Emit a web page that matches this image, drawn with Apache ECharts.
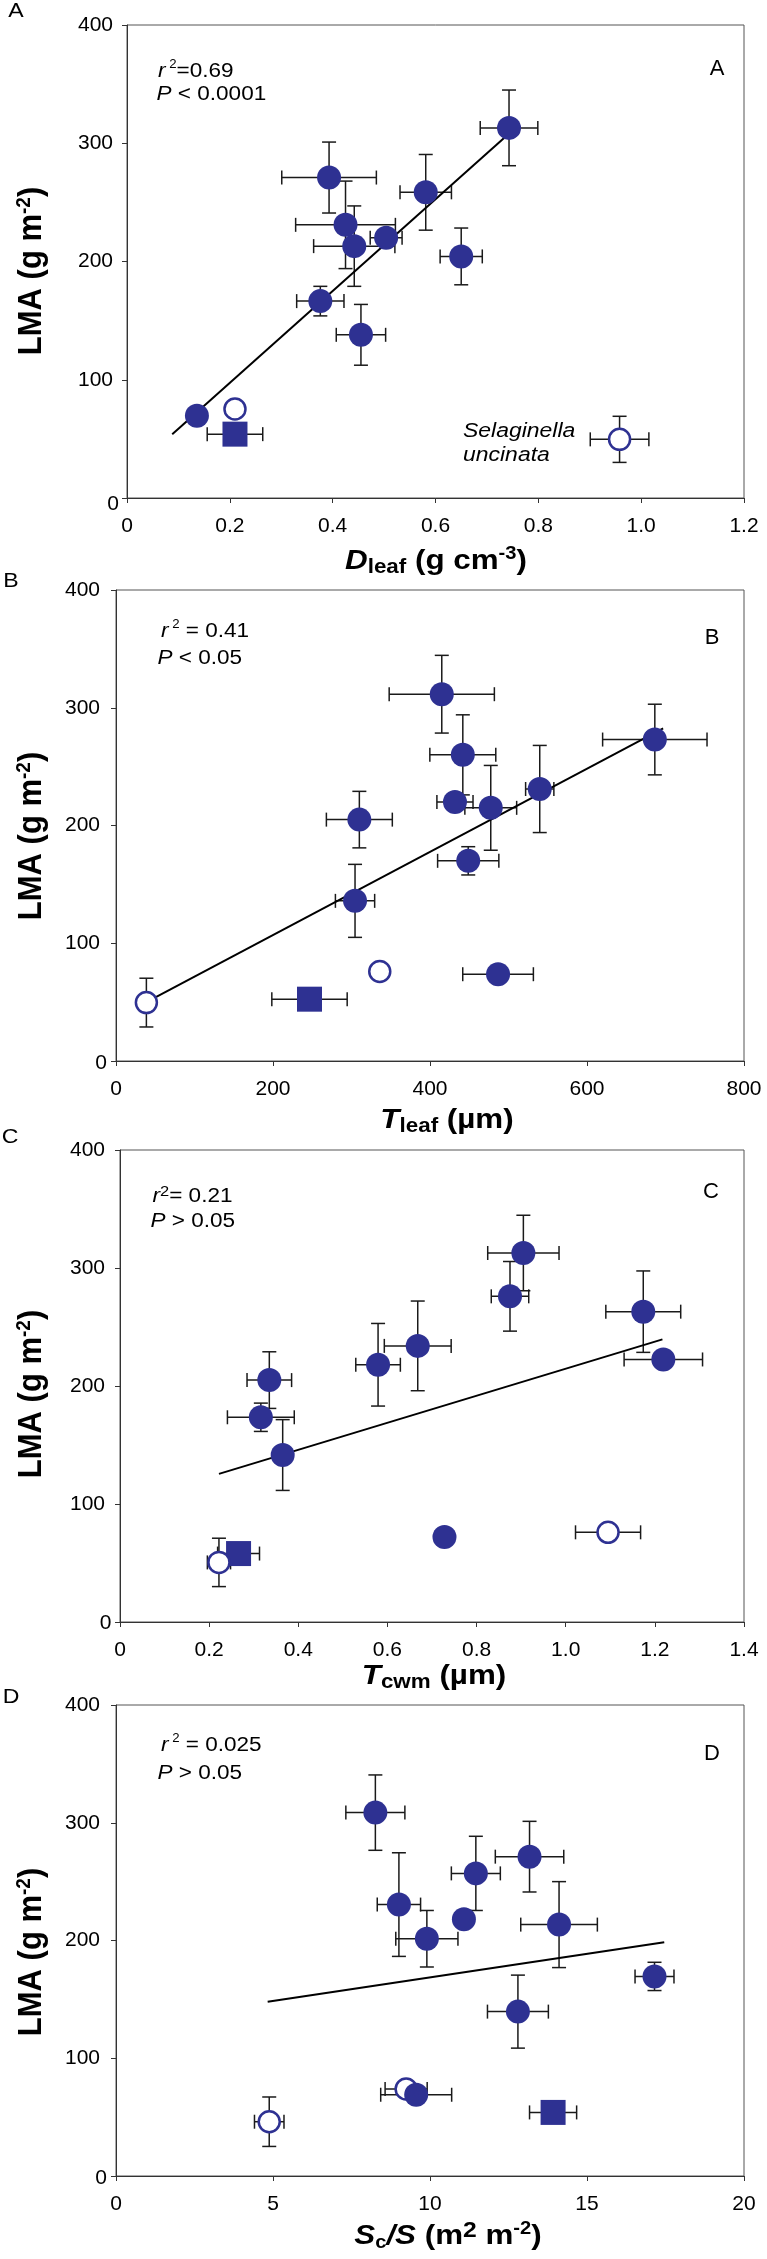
<!DOCTYPE html>
<html><head><meta charset="utf-8">
<script src="https://cdn.jsdelivr.net/npm/echarts@6/dist/echarts.min.js"></script>
<style>html,body{margin:0;padding:0;background:#fff}#c{width:767px;height:2259px}</style>
</head><body><div id="c"></div>
<script>
// ---------- DATA ----------
// kind: f = filled circle, o = open circle, s = filled square
const aX    = [0.136, 0.376, 0.393, 0.425, 0.442, 0.455, 0.504, 0.581, 0.650, 0.743, 0.210, 0.958, 0.210];
const aY    = [69.6, 166.5, 271, 231, 213, 138, 220, 258.5, 204.3, 313, 75.3, 49.6, 54];
const aXErr = [0, 0.046, 0.092, 0.097, 0.079, 0.048, 0.031, 0.050, 0.041, 0.056, 0, 0.057, 0.054];
const aYErr = [0, 12.5, 30, 37, 34, 25.7, 0, 32, 24, 32, 0, 19.5, 0];
const aKind = ['f','f','f','f','f','f','f','f','f','f','o','o','s'];
const aLineX = [0.088, 0.735];
const aLineY = [54, 305];

const bX    = [304.5, 310, 448.7, 431.8, 477.4, 441.8, 415, 539.8, 686.4, 486.7, 38.7, 336, 246.5];
const bY    = [136, 205, 170, 220, 215, 260, 311.5, 231, 273, 73.7, 49.6, 76, 52.5];
const bXErr = [25, 42, 39, 23, 33, 42, 67, 18, 66.5, 45, 0, 0, 48];
const bYErr = [31, 24, 12, 0, 36, 34, 33, 37, 30, 0, 20.7, 0, 0];
const bKind = ['f','f','f','f','f','f','f','f','f','f','o','o','s'];
const bLineX = [38.7, 697];
const bLineY = [50, 282.5];

const cX    = [0.316, 0.335, 0.365, 0.579, 0.668, 0.728, 0.875, 0.905, 1.174, 1.219, 0.222, 1.095, 0.266];
const cY    = [173.5, 205, 141.5, 218, 234, 72, 276, 312.7, 263, 222.5, 50.5, 76, 58];
const cXErr = [0.075, 0.050, 0, 0.050, 0.075, 0, 0.042, 0.080, 0.084, 0.088, 0.026, 0.073, 0.047];
const cYErr = [12, 24, 30, 35, 38, 0, 29.5, 32, 34.5, 0, 20.5, 0, 0];
const cKind = ['f','f','f','f','f','f','f','f','f','f','o','o','s'];
const cLineX = [0.222, 1.217];
const cLineY = [125.5, 239.5];

const dX    = [8.26, 9.01, 9.9, 11.08, 11.46, 13.17, 14.11, 12.8, 17.15, 9.56, 4.88, 9.24, 13.92];
const dY    = [308.6, 230.5, 201.5, 218, 257, 271.2, 213.5, 139.6, 169.5, 69, 46.1, 73.9, 54];
const dXErr = [0.94, 0.69, 0.99, 0, 0.78, 1.09, 1.22, 0.97, 0.62, 1.13, 0.47, 0.67, 0.75];
const dYErr = [32, 44, 24, 0, 31.5, 30, 36.5, 31, 12, 0, 21, 0, 0];
const dKind = ['f','f','f','f','f','f','f','f','f','f','o','o','s'];
const dLineX = [4.83, 17.46];
const dLineY = [148, 198.5];

const yTicks  = ['0', '100', '200', '300', '400'];
const aXTicks = ['0', '0.2', '0.4', '0.6', '0.8', '1.0', '1.2'];
const bXTicks = ['0', '200', '400', '600', '800'];
const cXTicks = ['0', '0.2', '0.4', '0.6', '0.8', '1.0', '1.2', '1.4'];
const dXTicks = ['0', '5', '10', '15', '20'];

// ---------- STYLE / LAYOUT ----------
const FONT = '"Liberation Sans", Arial, Helvetica, sans-serif';
const BLUE = '#2E3192';
const AXIS = '#333333';

const panels = [
  {x:aX, y:aY, xe:aXErr, ye:aYErr, kind:aKind, lx:aLineX, ly:aLineY, xint:0.2, xticks:aXTicks,
   grid:{left:127, top:25, width:617, height:473}, ylm:8, ypad:6, zshift:6, zo:{s:3,f:4,o:5}},
  {x:bX, y:bY, xe:bXErr, ye:bYErr, kind:bKind, lx:bLineX, ly:bLineY, xint:200, xticks:bXTicks,
   grid:{left:116, top:590, width:628, height:471}, ylm:9, ypad:7, zshift:2.5, zo:{s:3,f:4,o:5}},
  {x:cX, y:cY, xe:cXErr, ye:cYErr, kind:cKind, lx:cLineX, ly:cLineY, xint:0.2, xticks:cXTicks,
   grid:{left:120, top:1150, width:624, height:472}, ylm:8.5, ypad:6.5, zshift:1.5, zo:{s:3,f:4,o:5}},
  {x:dX, y:dY, xe:dXErr, ye:dYErr, kind:dKind, lx:dLineX, ly:dLineY, xint:5, xticks:dXTicks,
   grid:{left:116, top:1705, width:628, height:471}, ylm:9, ypad:7, zshift:2.5, zo:{o:3,s:4,f:5}}
];

function errRender(params, api) {
  const x = api.value(0), y = api.value(1), xe = api.value(2), ye = api.value(3);
  const st = {stroke:'#1a1a1a', lineWidth:1.5, fill:null};
  const cap = 7;
  const ch = [];
  if (xe > 0) {
    const l = api.coord([x - xe, y]), r = api.coord([x + xe, y]);
    ch.push({type:'line', shape:{x1:l[0], y1:l[1], x2:r[0], y2:r[1]}, style:st});
    ch.push({type:'line', shape:{x1:l[0], y1:l[1]-cap, x2:l[0], y2:l[1]+cap}, style:st});
    ch.push({type:'line', shape:{x1:r[0], y1:r[1]-cap, x2:r[0], y2:r[1]+cap}, style:st});
  }
  if (ye > 0) {
    const t = api.coord([x, y + ye]), b = api.coord([x, y - ye]);
    ch.push({type:'line', shape:{x1:t[0], y1:t[1], x2:b[0], y2:b[1]}, style:st});
    ch.push({type:'line', shape:{x1:t[0]-cap, y1:t[1], x2:t[0]+cap, y2:t[1]}, style:st});
    ch.push({type:'line', shape:{x1:b[0]-cap, y1:b[1], x2:b[0]+cap, y2:b[1]}, style:st});
  }
  return {type:'group', children:ch};
}

const grids = [], xAxes = [], yAxes = [], series = [];
panels.forEach((p, i) => {
  grids.push(Object.assign({show:true, borderColor:'#555', borderWidth:1, backgroundColor:'transparent',
    containLabel:false, outerBoundsMode:'none'}, p.grid));
  const xmax = (p.xticks.length - 1) * p.xint;
  xAxes.push({
    type:'value', gridIndex:i, min:0, max:xmax, interval:p.xint,
    splitLine:{show:false},
    axisLine:{show:true, onZero:false, lineStyle:{color:AXIS, width:1}},
    axisTick:{show:true, inside:false, length:5, lineStyle:{color:AXIS, width:1}},
    axisLabel:{show:true, margin:18, color:'#000', fontSize:21, fontFamily:FONT,
      formatter:(v) => p.xticks[Math.round(v / p.xint)]}
  });
  yAxes.push({
    type:'value', gridIndex:i, min:0, max:400, interval:100,
    splitLine:{show:false},
    axisLine:{show:true, onZero:false, lineStyle:{color:AXIS, width:1}},
    axisTick:{show:true, inside:false, length:5, lineStyle:{color:AXIS, width:1}},
    axisLabel:{show:true, margin:p.ylm, color:'#000', fontSize:21, fontFamily:FONT,
      formatter:(v) => { const k = Math.round(v / 100); return k === 0 ? '{z|' + yTicks[k] + '}' : '{p|' + yTicks[k] + '}'; },
      rich:{
        z:{fontSize:21, fontFamily:FONT, color:'#000', padding:[p.zshift * 2, 0, 0, 0]},
        p:{fontSize:21, fontFamily:FONT, color:'#000', padding:[0, p.ypad, 0, 0]}
      }}
  });
  const rows = p.x.map((v, k) => [v, p.y[k], p.xe[k], p.ye[k]]);
  series.push({type:'custom', xAxisIndex:i, yAxisIndex:i, renderItem:errRender, data:rows,
    encode:{x:0, y:1}, z:2, silent:true, clip:false});
  series.push({type:'line', xAxisIndex:i, yAxisIndex:i, data:p.lx.map((v, k) => [v, p.ly[k]]),
    showSymbol:false, symbol:'none', lineStyle:{color:'#000', width:2}, z:2, silent:true});
  const pick = (kd) => p.x.map((v, k) => [v, p.y[k], k]).filter(r => p.kind[r[2]] === kd).map(r => [r[0], r[1]]);
  series.push({type:'scatter', xAxisIndex:i, yAxisIndex:i, data:pick('f'), symbol:'circle', symbolSize:24,
    itemStyle:{color:BLUE, opacity:1}, z:p.zo.f, silent:true});
  series.push({type:'scatter', xAxisIndex:i, yAxisIndex:i, data:pick('o'), symbol:'circle', symbolSize:21,
    itemStyle:{color:'#fff', borderColor:BLUE, borderWidth:2.5, opacity:1}, z:p.zo.o, silent:true});
  series.push({type:'scatter', xAxisIndex:i, yAxisIndex:i, data:pick('s'), symbol:'rect', symbolSize:25,
    itemStyle:{color:BLUE, opacity:1}, z:p.zo.s, silent:true});
});

// ---------- TEXT ----------
function R(o) { return Object.assign({fontFamily:FONT, fill:'#000', color:'#000'}, o); }
const annRich = {
  i: R({fontSize:20.5, fontStyle:'italic', lineHeight:24}),
  n: R({fontSize:20.5, lineHeight:24}),
  s: R({fontSize:12, lineHeight:12, verticalAlign:'top'}),
  s2: R({fontSize:15, lineHeight:14, verticalAlign:'top'})
};
const titleRich = {
  b: R({fontSize:28, fontWeight:'bold', lineHeight:32}),
  i: R({fontSize:28, fontWeight:'bold', fontStyle:'italic', lineHeight:32}),
  sub: R({fontSize:20, fontWeight:'bold', lineHeight:20, verticalAlign:'bottom'}),
  subs: R({fontSize:18, fontWeight:'bold', lineHeight:18, verticalAlign:'bottom'}),
  sup: R({fontSize:18, fontWeight:'bold', lineHeight:22, verticalAlign:'top'}),
  sup2: R({fontSize:22, fontWeight:'bold', lineHeight:28, verticalAlign:'top'})
};
const yRich = {
  b: R({fontSize:31, fontWeight:'bold', lineHeight:34}),
  sup: R({fontSize:19, fontWeight:'bold', lineHeight:24, verticalAlign:'top'})
};
function T(x, y, text, rich, opt) {
  opt = opt || {};
  return {type:'text', x:x, y:y, rotation:opt.rot || 0, scaleX:opt.sx || 1, scaleY:opt.sy || 1, z:10, silent:true,
    style:{text:text, rich:rich, fontFamily:FONT, fontSize:opt.fs || 20, fill:'#000',
      align:opt.align || 'left', textAlign:opt.align || 'left', verticalAlign:'middle', textVerticalAlign:'middle'}};
}
const plain = {t: R({fontSize:21, lineHeight:24})};
const plain22 = {t: R({fontSize:22, lineHeight:24})};
const ital = {t: R({fontSize:20.5, fontStyle:'italic', lineHeight:24})};

const yTitle = '{b|LMA (g m}{sup|-2}{b|)}';
const graphics = [
  // outer panel labels
  T(16, 11, '{t|A}', plain, {align:'center', sx:1.1}),
  T(11, 581, '{t|B}', plain, {align:'center', sx:1.1}),
  T(10, 1137, '{t|C}', plain, {align:'center', sx:1.1}),
  T(11, 1697, '{t|D}', plain, {align:'center', sx:1.1}),
  // inner panel labels
  T(717, 69, '{t|A}', plain22, {align:'center'}),
  T(712, 638, '{t|B}', plain22, {align:'center'}),
  T(711, 1192, '{t|C}', plain22, {align:'center'}),
  T(712, 1754, '{t|D}', plain22, {align:'center'}),
  // statistics
  T(158, 71, '{i|r}{s| 2}{n|=0.69}', annRich, {sx:1.1}),
  T(156.5, 94.5, '{i|P}{n| < 0.0001}', annRich, {sx:1.1}),
  T(161, 631, '{i|r}{s| 2}{n| = 0.41}', annRich, {sx:1.1}),
  T(157.5, 658, '{i|P}{n| < 0.05}', annRich, {sx:1.1}),
  T(152.5, 1196, '{i|r}{s2|2}{n|= 0.21}', annRich, {sx:1.1}),
  T(150.5, 1221.5, '{i|P}{n| > 0.05}', annRich, {sx:1.1}),
  T(161, 1745, '{i|r}{s| 2}{n| = 0.025}', annRich, {sx:1.1}),
  T(157.5, 1773, '{i|P}{n| > 0.05}', annRich, {sx:1.1}),
  // species note
  T(463, 431, '{t|Selaginella}', ital, {sx:1.12}),
  T(463, 455, '{t|uncinata}', ital, {sx:1.12}),
  // x titles
  T(436, 561, '{i|D}{sub|leaf}{b| (g cm}{sup|-3}{b|)}', titleRich, {align:'center', sx:1.12}),
  T(447, 1120, '{i|T}{sub|leaf}{b| (µm)}', titleRich, {align:'center', sx:1.12}),
  T(434, 1676, '{i|T}{sub|cwm}{b| (µm)}', titleRich, {align:'center', sx:1.12}),
  T(448, 2236, '{i|S}{subs|c}{i|/S}{b| (m}{sup2|2}{b| m}{sup|-2}{b|)}', titleRich, {align:'center', sx:1.12}),
  // y titles
  T(32, 271, yTitle, yRich, {align:'center', rot:Math.PI / 2, sy:1.1}),
  T(32, 836, yTitle, yRich, {align:'center', rot:Math.PI / 2, sy:1.1}),
  T(32, 1394, yTitle, yRich, {align:'center', rot:Math.PI / 2, sy:1.1}),
  T(32, 1952, yTitle, yRich, {align:'center', rot:Math.PI / 2, sy:1.1})
];

const chart = echarts.init(document.getElementById('c'), null, {renderer:'canvas'});
chart.setOption({
  animation:false,
  backgroundColor:'#fff',
  textStyle:{fontFamily:FONT},
  grid:grids, xAxis:xAxes, yAxis:yAxes, series:series,
  graphic:graphics
});
</script></body></html>
